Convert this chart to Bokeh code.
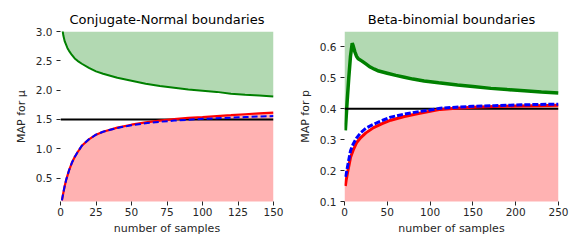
from bokeh.plotting import figure
from bokeh.layouts import row
from bokeh.models import Range1d, FixedTicker, PrintfTickFormatter
from bokeh.embed import file_html
from bokeh.resources import INLINE

# ---- Conjugate-Normal (left) ----
n_norm = [1, 2, 3, 4, 5, 6, 8, 10, 12, 15, 20, 25, 30, 40, 50, 60, 70, 80, 90, 100, 110, 120, 130, 140, 150]
norm_upper = [3.10, 2.93, 2.83, 2.77, 2.71, 2.67, 2.60, 2.54, 2.50, 2.45, 2.38, 2.32, 2.28, 2.21, 2.16, 2.11, 2.07, 2.04, 2.01, 1.99, 1.97, 1.94, 1.92, 1.91, 1.89]
norm_lower_red = [0.12, 0.25, 0.37, 0.47, 0.55, 0.63, 0.76, 0.86, 0.94, 1.05, 1.16, 1.24, 1.29, 1.36, 1.41, 1.45, 1.48, 1.505, 1.525, 1.54, 1.557, 1.572, 1.588, 1.602, 1.615]
norm_lower_blue = [0.12, 0.25, 0.37, 0.47, 0.55, 0.63, 0.76, 0.86, 0.94, 1.05, 1.16, 1.24, 1.29, 1.355, 1.40, 1.435, 1.46, 1.48, 1.495, 1.51, 1.52, 1.53, 1.54, 1.55, 1.557]
norm_true = 1.5
norm_xticks = [0, 25, 50, 75, 100, 125, 150]
norm_yticks = [0.5, 1.0, 1.5, 2.0, 2.5, 3.0]

# ---- Beta-binomial (right) ----
n_beta_up = [1, 3, 5, 7, 9, 10, 12, 14, 16, 20, 25, 30, 35, 40, 50, 60, 70, 80, 93, 110, 132, 150, 171, 190, 210, 230, 250]
beta_upper = [0.33, 0.42, 0.50, 0.57, 0.612, 0.605, 0.585, 0.57, 0.562, 0.555, 0.545, 0.535, 0.528, 0.522, 0.515, 0.508, 0.502, 0.496, 0.49, 0.484, 0.477, 0.472, 0.466, 0.462, 0.458, 0.454, 0.451]
n_beta_low = [1, 2, 4, 7, 10, 14, 19, 25, 34, 44, 54, 70, 85, 100, 112, 130, 150, 175, 200, 225, 250]
beta_lower_red = [0.15, 0.17, 0.20, 0.242, 0.265, 0.29, 0.307, 0.322, 0.339, 0.352, 0.363, 0.375, 0.384, 0.392, 0.398, 0.402, 0.405, 0.407, 0.409, 0.41, 0.411]
beta_lower_blue = [0.18, 0.19, 0.22, 0.264, 0.285, 0.305, 0.323, 0.337, 0.35, 0.362, 0.373, 0.383, 0.39, 0.396, 0.402, 0.405, 0.408, 0.41, 0.412, 0.414, 0.415]
beta_true = 0.4
beta_xticks = [0, 50, 100, 150, 200, 250]
beta_yticks = [0.1, 0.2, 0.3, 0.4, 0.5, 0.6]

TXT = "#262626"
FONT = "DejaVu Sans"


def style(p, xticks, yticks, ylabel):
    p.title.text_font = FONT
    p.title.text_font_size = "13px"
    p.title.text_font_style = "normal"
    p.title.align = "center"
    p.title.text_color = "black"
    p.outline_line_color = None
    p.grid.visible = False
    for ax in (p.xaxis[0], p.yaxis[0]):
        ax.axis_line_color = None
        ax.major_tick_line_color = TXT
        ax.major_tick_out = 4
        ax.major_tick_in = 0
        ax.minor_tick_line_color = None
        ax.major_label_text_font = FONT
        ax.major_label_text_font_size = "10.5px"
        ax.major_label_text_color = TXT
        ax.axis_label_text_font = FONT
        ax.axis_label_text_font_size = "11px"
        ax.axis_label_text_font_style = "normal"
        ax.axis_label_text_color = TXT
        ax.major_label_standoff = 4
        ax.axis_label_standoff = 5
    p.xaxis[0].major_label_standoff = 2
    p.xaxis[0].axis_label_standoff = 3
    p.xaxis[0].ticker = FixedTicker(ticks=xticks)
    p.yaxis[0].ticker = FixedTicker(ticks=yticks)
    p.yaxis[0].formatter = PrintfTickFormatter(format="%.1f")
    p.xaxis[0].axis_label = "number of samples"
    p.yaxis[0].axis_label = ylabel


p1 = figure(frame_width=213, frame_height=170, output_backend="svg", toolbar_location=None,
            title="Conjugate-Normal boundaries",
            x_range=Range1d(0, 150), y_range=Range1d(0.1, 3.0),
            min_border_left=60, min_border_right=17, min_border_top=31, min_border_bottom=40)
style(p1, norm_xticks, norm_yticks, "MAP for μ")
p1.varea(x=n_norm, y1=norm_upper, y2=[3.0] * len(n_norm), fill_color="green", fill_alpha=0.3)
p1.varea(x=n_norm, y1=[0.0] * len(n_norm), y2=norm_lower_red, fill_color="red", fill_alpha=0.3)
p1.line(n_norm, norm_upper, line_color="green", line_width=2)
p1.line([0, 150], [norm_true, norm_true], line_color="black", line_width=2)
p1.line(n_norm, norm_lower_red, line_color="red", line_width=2.2)
p1.line(n_norm, norm_lower_blue, line_color="blue", line_width=2, line_dash="6 3")

p2 = figure(frame_width=214, frame_height=170, output_backend="svg", toolbar_location=None,
            title="Beta-binomial boundaries",
            x_range=Range1d(0, 250), y_range=Range1d(0.1, 0.65),
            min_border_left=54, min_border_right=15, min_border_top=31, min_border_bottom=40)
style(p2, beta_xticks, beta_yticks, "MAP for p")
p2.varea(x=[0] + n_beta_up, y1=[beta_upper[0]] + beta_upper, y2=[0.65] * (len(n_beta_up) + 1), fill_color="green", fill_alpha=0.3)
p2.varea(x=[0] + n_beta_low, y1=[0.0] * (len(n_beta_low) + 1), y2=[beta_lower_red[0]] + beta_lower_red, fill_color="red", fill_alpha=0.3)
p2.line(n_beta_up, beta_upper, line_color="green", line_width=3.5)
p2.line([0, 250], [beta_true, beta_true], line_color="black", line_width=2)
p2.line(n_beta_low, beta_lower_red, line_color="red", line_width=3)
p2.line(n_beta_low, beta_lower_blue, line_color="blue", line_width=3, line_dash="6 2")

layout = row(p1, p2)
open("out.html", "w").write(file_html(layout, INLINE))
